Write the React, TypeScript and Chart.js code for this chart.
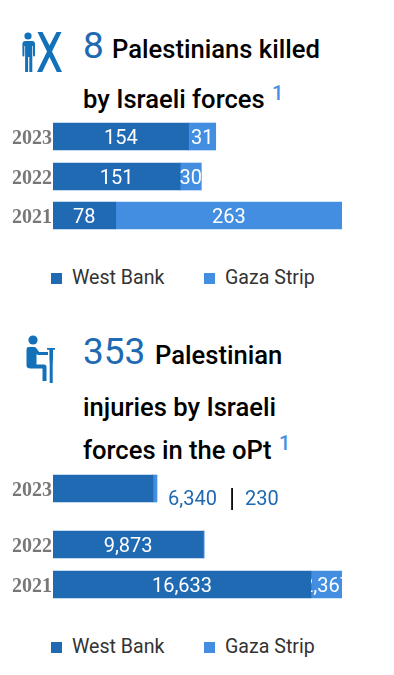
import React, { useEffect, useRef } from "react";
import { Chart, registerables } from "chart.js";

Chart.register(...registerables);

const years = ["2023", "2022", "2021"];
const seriesNames = ["West Bank", "Gaza Strip"];

// Drawn bar lengths; they differ slightly from the printed labels there.
const killedRows = [0, 1, 1.975];
const killedWestBank = [160, 150, 74];
const killedGaza = [32, 25, 267];
const killedWestBankLabels = ["154", "151", "78"];
const killedGazaLabels = ["31", "30", "263"];
const killedMax = 341;

const injuredRows = [0, 1.4, 2.4];
const injuredWestBank = [6574, 9873, 16961];
const injuredGaza = [263, 66, 2039];
const injuredWestBankLabels = ["", "9,873", "16,633"];
const injuredGazaLabels = ["", "", "2,367"];
const injuredMax = 19000;

const DARK = "#2069b3";
const LIGHT = "#438ee0";

const labelPlugin = {
  id: "segmentLabels",
  afterDatasetsDraw(chart: any) {
    const ctx = chart.ctx;
    chart.data.datasets.forEach((ds: any, i: number) => {
      chart.getDatasetMeta(i).data.forEach((el: any, j: number) => {
        const text = ds.segmentLabels[j];
        if (!text) return;
        const left = el.base;
        const right = el.x;
        ctx.save();
        ctx.beginPath();
        ctx.rect(left, el.y - el.height / 2, right - left, el.height);
        ctx.clip();
        ctx.font = "20px Roboto";
        ctx.fillStyle = "#ffffff";
        ctx.textAlign = "center";
        ctx.textBaseline = "middle";
        ctx.fillText(text, (left + right) / 2, el.y + 2);
        ctx.restore();
      });
    });
  },
};

function Bars(props: {
  top: number;
  height: number;
  rows: number[];
  westBank: number[];
  gaza: number[];
  westBankLabels: string[];
  gazaLabels: string[];
  max: number;
  yMax: number;
}) {
  const ref = useRef<HTMLCanvasElement>(null);
  useEffect(() => {
    const { rows } = props;
    const chart = new Chart(ref.current as HTMLCanvasElement, {
      type: "bar",
      plugins: [labelPlugin],
      data: {
        datasets: [
          {
            label: seriesNames[0],
            data: rows.map((y, i) => ({ x: props.westBank[i], y })),
            backgroundColor: DARK,
            barThickness: 27,
            segmentLabels: props.westBankLabels,
          },
          {
            label: seriesNames[1],
            data: rows.map((y, i) => ({ x: props.gaza[i], y })),
            backgroundColor: LIGHT,
            barThickness: 27,
            segmentLabels: props.gazaLabels,
          },
        ] as any,
      },
      options: {
        indexAxis: "y",
        animation: false,
        responsive: false,
        layout: { padding: 0 },
        scales: {
          x: { display: false, stacked: true, min: 0, max: props.max },
          y: {
            type: "linear",
            stacked: true,
            offset: false,
            reverse: true,
            min: -0.5125,
            max: props.yMax,
            grid: { display: false, drawTicks: false, tickLength: 0 },
            border: { display: false },
            afterBuildTicks(scale: any) {
              scale.ticks = rows.map((value) => ({ value }));
            },
            afterFit(scale: any) {
              scale.width = 53;
              scale.paddingTop = 0;
              scale.paddingBottom = 0;
            },
            ticks: {
              padding: 1,
              labelOffset: 2,
              color: "#777777",
              autoSkip: false,
              font: { family: "'Liberation Serif'", size: 20, weight: "bold" },
              callback: (value: any) => years[rows.indexOf(value)] ?? "",
            },
          },
        },
        plugins: {
          tooltip: { enabled: false },
          legend: { display: false },
        },
      } as any,
    });
    return () => chart.destroy();
  }, []);
  return (
    <canvas
      ref={ref}
      width={342}
      height={props.height}
      style={{ position: "absolute", left: 0, top: props.top, width: 342, height: props.height }}
    />
  );
}

const Text = (p: {
  x: number;
  base: number;
  size: number;
  color?: string;
  weight?: number;
  children: React.ReactNode;
}) => (
  <span
    style={{
      position: "absolute",
      left: p.x,
      top: p.base - p.size * 0.927,
      lineHeight: `${p.size * 1.172}px`,
      fontFamily: "Roboto",
      fontSize: p.size,
      fontWeight: p.weight ?? 400,
      color: p.color ?? "#000",
      whiteSpace: "nowrap",
    }}
  >
    {p.children}
  </span>
);

const Legend = ({ base }: { base: number }) => (
  <>
    <i style={{ position: "absolute", left: 51, top: base - 12, width: 11, height: 11, background: DARK }} />
    <Text x={72} base={base} size={19.6} color="#333">{seriesNames[0]}</Text>
    <i style={{ position: "absolute", left: 204, top: base - 12, width: 11, height: 11, background: LIGHT }} />
    <Text x={225} base={base} size={19.6} color="#333">{seriesNames[1]}</Text>
  </>
);

export default function App() {
  const big = "#2069b3";
  const sup = "#4a90e2";
  const ic = "#1271b9";
  return (
    <div style={{ position: "absolute", left: 0, top: 0, width: 394, height: 675, overflow: "hidden", background: "#fff" }}>
      <svg width={394} height={675} style={{ position: "absolute", left: 0, top: 0 }}>
        <g fill={ic}>
          <circle cx={28} cy={36} r={3.6} />
          <path d="M24 41h8q3 0 3 3v11q0 1.500-1 1.500t-1-1.500v-9h-.7v26h-3v-15h-1.200v15h-3v-26h-.7v9q0 1.500-1 1.500t-1-1.500v-11q0-3 3-3z" />
          <path d="M37.500 32h5l7 13.500 7-13.500h5l-9.500 19.500 10 20.500h-5.200l-7.300-15-7.300 15h-5.200l10-20.500z" />
          <circle cx={33} cy={340} r={4.6} />
          <path d="M28.500 347h5.500q2 0 3 2l2 3h9v3h-10l-1.500-1v10.500h7.500q2.500 0 2.500 2.500v14h-4v-12.500h-12q-4 0-4-3v-15.500q0-3 2-3z" />
          <path d="M47 348h8v1.700h-2v8.300l-.3 6v19h-3v-19l-.3-6v-8.300h-2.400z" />
        </g>
      </svg>

      <Text x={83} base={58} size={37} color={big}>8</Text>
      <Text x={112} base={58} size={25.6} weight={500}>Palestinians killed</Text>
      <Text x={83} base={108} size={25.6} weight={500}>by Israeli forces</Text>
      <Text x={272} base={101} size={20} weight={500} color={sup}>1</Text>

      <Text x={83} base={364} size={37} color={big}>353</Text>
      <Text x={155} base={364} size={25.6} weight={500}>Palestinian</Text>
      <Text x={83} base={416} size={25.6} weight={500}>injuries by Israeli</Text>
      <Text x={83} base={459} size={25.6} weight={500}>forces in the oPt</Text>
      <Text x={279} base={451} size={20} weight={500} color={sup}>1</Text>

      <Bars
        top={116}
        height={120}
        rows={killedRows}
        westBank={killedWestBank}
        gaza={killedGaza}
        westBankLabels={killedWestBankLabels}
        gazaLabels={killedGazaLabels}
        max={killedMax}
        yMax={2.4875}
      />
      <Bars
        top={468}
        height={136}
        rows={injuredRows}
        westBank={injuredWestBank}
        gaza={injuredGaza}
        westBankLabels={injuredWestBankLabels}
        gazaLabels={injuredGazaLabels}
        max={injuredMax}
        yMax={2.8875}
      />

      <Text x={168} base={506} size={20} color={big}>6,340</Text>
      <Text x={229} base={507} size={25} color="#000">|</Text>
      <Text x={245} base={506} size={20} color={big}>230</Text>

      <Legend base={285} />
      <Legend base={654} />
    </div>
  );
}
